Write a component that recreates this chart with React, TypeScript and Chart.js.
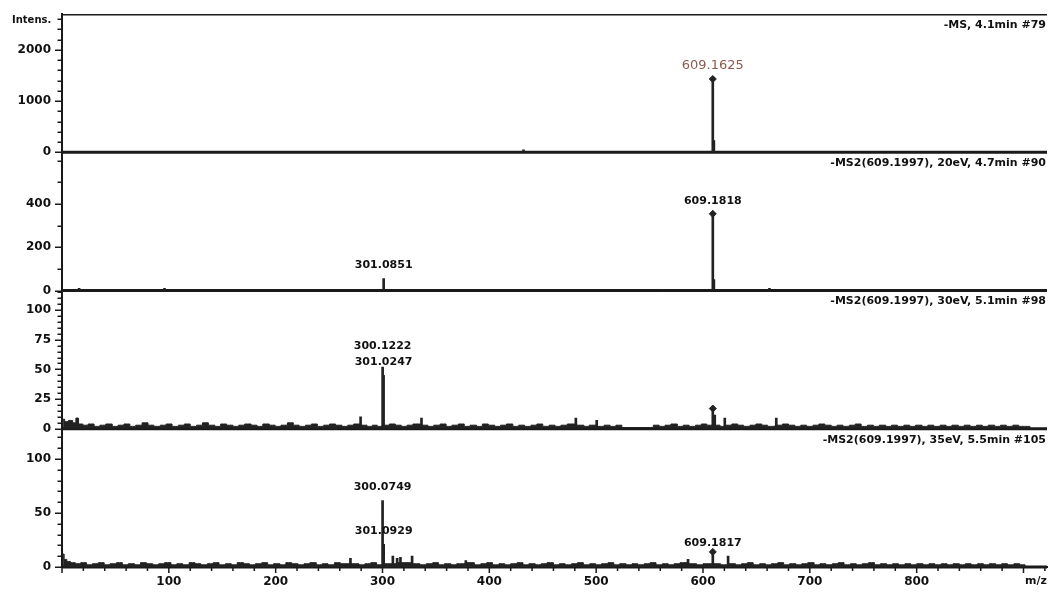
import React, { useEffect, useRef } from 'react';
import { Chart, registerables } from 'chart.js';

Chart.register(...registerables);

// ---------- data ----------
const panelTitles = [
  '-MS, 4.1min #79',
  '-MS2(609.1997), 20eV, 4.7min #90',
  '-MS2(609.1997), 30eV, 5.1min #98',
  '-MS2(609.1997), 35eV, 5.5min #105',
];

const xTickLabels = [100, 200, 300, 400, 500, 600, 700, 800];
const p1TickLabels = [0, 1000, 2000];
const p2TickLabels = [0, 200, 400];
const p3TickLabels = [0, 25, 50, 75, 100];
const p4TickLabels = [0, 50, 100];

// peaks (m/z, intensity)
const p1Mz = [432.0, 609.1625, 610.17];
const p1Int = [45, 1430, 230];

const p2Mz = [16.0, 96.0, 301.0851, 561.0, 609.1818, 610.18, 662.2];
const p2Int = [10, 10, 55, 4, 355, 50, 10];

const p3Mz = [279.5, 300.1222, 301.0247, 336.5, 481.0, 500.5, 609.18, 611.0, 620.4, 668.6];
const p3Int = [10, 52, 45, 9, 9, 7, 17, 11.5, 9, 9];

const p4Mz = [270.0, 300.0749, 301.0929, 309.7, 313.7, 316.8, 327.7, 378.0, 586.0, 609.1817, 623.5];
const p4Int = [8, 61.5, 21, 10, 8, 9, 10, 6, 7, 14, 10];

// precursor markers
const markerMz = [609.1625, 609.1818, 609.18, 609.1817];
const markerInt = [1430, 355, 17, 14];

// peak annotations
const p1LabelMz = [609.1625];
const p1LabelInt = [1430];
const p1LabelText = ['609.1625'];
const p2LabelMz = [301.0851, 609.1818];
const p2LabelInt = [55, 355];
const p2LabelText = ['301.0851', '609.1818'];
const p3LabelMz = [301.0247, 300.1222];
const p3LabelInt = [45, 52];
const p3LabelText = ['301.0247', '300.1222'];
const p4LabelMz = [301.0929, 300.0749, 609.1817];
const p4LabelInt = [21, 61.5, 10];
const p4LabelText = ['301.0929', '300.0749', '609.1817'];

// baseline noise (m/z, intensity)
const p3Noise: [number, number][] = [
  [1,8],[4,6],[8,7],[12,5],[14,9],[17,4],[22,3],[27,4],[33,2],[38,3],[44,4],[50,2],[55,3],[61,4],[66,2],[72,3],
  [78,5],[83,3],[89,2],[95,3],[100,4],[106,2],[112,3],[117,4],[123,2],[129,3],[134,5],[140,3],[146,2],[151,4],
  [157,3],[163,2],[168,3],[174,4],[180,3],[185,2],[191,4],[197,3],[202,2],[208,3],[214,5],[219,3],[225,2],[231,3],
  [236,4],[242,2],[248,3],[253,4],[259,3],[265,2],[270,3],[276,4],[283,3],[288,2],[293,3],[297,2],[304,3],[309,4],
  [315,3],[320,2],[326,3],[331,4],[340,3],[345,2],[351,3],[357,4],[362,2],[368,3],[374,4],[379,2],[385,3],[391,2],
  [396,4],[402,3],[408,2],[413,3],[419,4],[425,2],[430,3],[436,2],[442,3],[447,4],[453,2],[459,3],[464,2],[470,3],
  [476,4],[486,3],[491,2],[496,3],[505,2],[510,3],[516,2],[521,3],[527,1],[533,1],[539,1],[545,1],[551,1],[556,3],
  [562,2],[567,3],[573,4],[579,2],[584,3],[590,2],[596,3],[601,4],[606,3],[614,3],[618,2],[624,3],[630,4],[635,3],
  [641,2],[647,3],[652,4],[658,3],[663,2],[672,3],[677,4],[683,3],[689,2],[694,3],[700,2],[706,3],[711,4],[717,3],
  [723,2],[728,3],[734,2],[740,3],[745,4],[751,2],[757,3],[762,2],[768,3],[774,2],[779,3],[785,2],[791,3],[796,2],
  [802,3],[808,2],[813,3],[819,2],[825,3],[830,2],[836,3],[842,2],[847,3],[853,2],[859,3],[864,2],[870,3],[876,2],
  [881,3],[887,2],[893,3],[898,2],[904,2],[908,0],
];

const p4Noise: [number, number][] = [
  [1,12],[3,7],[6,5],[10,4],[15,3],[20,4],[26,2],[31,3],[37,4],[42,2],[48,3],[54,4],[59,2],[65,3],[71,2],[76,4],
  [82,3],[88,2],[93,3],[99,4],[105,2],[110,3],[116,2],[122,4],[127,3],[133,2],[139,3],[144,4],[150,2],[156,3],
  [161,2],[167,4],[173,3],[178,2],[184,3],[190,4],[195,2],[201,3],[207,2],[212,4],[218,3],[224,2],[229,3],[235,4],
  [241,2],[246,3],[252,2],[258,4],[263,3],[275,3],[281,2],[286,3],[292,4],[297,2],[305,3],[321,4],[332,3],[338,2],
  [344,3],[350,4],[355,2],[361,3],[367,2],[372,3],[383,4],[389,2],[395,3],[400,4],[406,2],[412,3],[417,2],[423,3],
  [429,4],[434,2],[440,3],[446,2],[451,3],[457,4],[463,2],[468,3],[474,2],[480,3],[485,4],[491,2],[497,3],[502,2],
  [508,3],[514,4],[519,2],[525,3],[531,2],[536,3],[542,2],[548,3],[553,4],[559,2],[565,3],[570,2],[576,3],[581,4],
  [591,3],[597,2],[603,3],[614,3],[619,2],[628,3],[633,2],[639,3],[644,4],[650,2],[656,3],[661,2],[667,3],[673,4],
  [678,2],[684,3],[690,2],[695,3],[701,4],[707,2],[712,3],[718,2],[724,3],[729,4],[735,2],[741,3],[746,2],[752,3],
  [758,4],[763,2],[769,3],[775,2],[780,3],[786,2],[792,3],[797,2],[803,3],[809,2],[814,3],[820,2],[826,3],[831,2],
  [837,3],[843,2],[848,3],[854,2],[860,3],[865,2],[871,3],[877,2],[882,3],[888,2],[894,3],[899,2],[904,0],
];

// ---------- chart ----------
const FONT = '"DejaVu Sans", "Liberation Sans", Arial, sans-serif';
const INK = '#1a1a1a';

const panelIds = ['y1', 'y2', 'y3', 'y4'];
const panelTickLabels = [p1TickLabels, p2TickLabels, p3TickLabels, p4TickLabels];
const panelLabels = [
  { mz: p1LabelMz, int: p1LabelInt, text: p1LabelText },
  { mz: p2LabelMz, int: p2LabelInt, text: p2LabelText },
  { mz: p3LabelMz, int: p3LabelInt, text: p3LabelText },
  { mz: p4LabelMz, int: p4LabelInt, text: p4LabelText },
];

const pts = (mz: number[], it: number[]) => mz.map((m, i) => ({ x: m, y: it[i] }));

function barSet(mz: number[], it: number[], yAxisID: string) {
  return {
    type: 'bar' as const,
    data: pts(mz, it),
    yAxisID,
    xAxisID: 'x',
    backgroundColor: '#222',
    borderWidth: 0,
    barThickness: 2,
    grouped: false,
  };
}

function noiseSet(noise: [number, number][], yAxisID: string) {
  return {
    type: 'line' as const,
    data: noise.map(([x, y]) => ({ x, y })),
    yAxisID,
    xAxisID: 'x',
    stepped: 'middle' as const,
    fill: 'origin',
    borderColor: '#222',
    backgroundColor: '#222',
    borderWidth: 1,
    pointRadius: 0,
  };
}

function yScale(id: number, max: number, step: number, labels: number[]) {
  return {
    type: 'linear' as const,
    position: 'left' as const,
    stack: 'ms',
    stackWeight: 1,
    weight: 5 - id,
    min: 0,
    max,
    offset: false,
    grid: { display: false, drawTicks: false },
    border: { display: true, color: INK, width: 2 },
    ticks: {
      stepSize: step,
      autoSkip: false,
      includeBounds: false,
      padding: 11,
      color: '#111',
      font: { family: FONT, weight: 'bold' as const, size: 12 },
      callback: (v: any) => (labels.some((l) => Math.abs(l - Number(v)) < 1e-6) ? String(v) : ''),
    },
    afterFit: (s: any) => {
      s.width = 62;
      s.paddingTop = 0;
      s.paddingBottom = 0;
    },
  };
}

const overlay = {
  id: 'overlay',
  beforeDatasetsDraw(chart: any) {
    const { ctx, chartArea } = chart;
    ctx.save();
    ctx.strokeStyle = INK;
    ctx.lineWidth = 1.5;
    ctx.beginPath();
    ctx.moveTo(chartArea.left, chartArea.top + 0.75);
    ctx.lineTo(chartArea.right, chartArea.top + 0.75);
    ctx.stroke();
    ctx.lineWidth = 3;
    for (const id of panelIds) {
      const y = chart.scales[id].getPixelForValue(0);
      ctx.beginPath();
      ctx.moveTo(chartArea.left, y);
      ctx.lineTo(chartArea.right, y);
      ctx.stroke();
    }
    ctx.restore();
  },
  afterDraw(chart: any) {
    const { ctx, chartArea } = chart;
    ctx.save();
    ctx.strokeStyle = INK;
    ctx.lineWidth = 1.5;
    // y tick marks
    panelIds.forEach((id, k) => {
      const s = chart.scales[id];
      for (const t of s.ticks) {
        const y = Math.round(s.getPixelForValue(t.value)) + 0.25;
        const major = panelTickLabels[k].some((l) => Math.abs(l - t.value) < 1e-6);
        const len = major ? 7 : 4.5;
        ctx.beginPath();
        ctx.moveTo(chartArea.left - len, y);
        ctx.lineTo(chartArea.left, y);
        ctx.stroke();
      }
    });
    // x tick marks
    const xs = chart.scales.x;
    for (const t of xs.ticks) {
      const x = xs.getPixelForValue(t.value);
      const major = t.value % 100 === 0;
      const len = major ? 6 : 4;
      ctx.beginPath();
      ctx.moveTo(x, chartArea.bottom);
      ctx.lineTo(x, chartArea.bottom + len);
      ctx.stroke();
    }
    // titles
    ctx.fillStyle = '#111';
    ctx.font = `bold 11px ${FONT}`;
    ctx.textAlign = 'right';
    ctx.textBaseline = 'middle';
    panelIds.forEach((id, k) => {
      const s = chart.scales[id];
      ctx.fillText(panelTitles[k], chartArea.right - 1, s.top + 11);
    });
    // peak labels
    ctx.textAlign = 'center';
    panelIds.forEach((id, k) => {
      const s = chart.scales[id];
      const L = panelLabels[k];
      ctx.font = k === 0 ? `13px ${FONT}` : `bold 11px ${FONT}`;
      ctx.fillStyle = k === 0 ? '#8c5a4e' : '#111';
      const placed: { x: number; y: number; w: number }[] = [];
      L.mz.forEach((m, i) => {
        const x = xs.getPixelForValue(m);
        let y = s.getPixelForValue(L.int[i]) - 13;
        const w = ctx.measureText(L.text[i]).width;
        for (const p of placed) {
          if (Math.abs(p.x - x) < (p.w + w) / 2 && Math.abs(p.y - y) < 15) y = p.y - 16;
        }
        placed.push({ x, y, w });
        ctx.fillText(L.text[i], x, y);
      });
    });
    // axis captions
    ctx.fillStyle = '#111';
    ctx.font = `bold 10px ${FONT}`;
    ctx.textAlign = 'left';
    ctx.fillText('Intens.', 12, chartArea.top + 6);
    ctx.font = `bold 11px ${FONT}`;
    ctx.textAlign = 'center';
    ctx.fillText('m/z', 1036, chartArea.bottom + 14);
    ctx.restore();
  },
};

export default function App() {
  const ref = useRef<HTMLCanvasElement>(null);
  useEffect(() => {
    const chart = new Chart(ref.current as HTMLCanvasElement, {
      type: 'bar',
      data: {
        datasets: [
          noiseSet(p3Noise, 'y3'),
          noiseSet(p4Noise, 'y4'),
          barSet(p1Mz, p1Int, 'y1'),
          barSet(p2Mz, p2Int, 'y2'),
          barSet(p3Mz, p3Int, 'y3'),
          barSet(p4Mz, p4Int, 'y4'),
          ...markerMz.map((m, i) => ({
            type: 'line' as const,
            data: [{ x: m, y: markerInt[i] }],
            yAxisID: panelIds[i],
            xAxisID: 'x',
            showLine: false,
            pointStyle: 'rectRot' as const,
            pointRadius: 3.5,
            backgroundColor: '#222',
            borderColor: '#222',
            borderWidth: 1,
          })),
        ] as any,
      },
      options: {
        responsive: false,
        animation: false,
        events: [],
        layout: { padding: { top: 14, right: 3, left: 0, bottom: 0 } },
        plugins: { legend: { display: false }, tooltip: { enabled: false } },
        scales: {
          x: {
            type: 'linear',
            position: 'bottom',
            min: 0,
            max: 922,
            offset: false,
            grid: { display: false, drawTicks: false },
            border: { display: true, color: INK, width: 2 },
            ticks: {
              stepSize: 20,
              autoSkip: false,
              includeBounds: false,
              maxRotation: 0,
              padding: 8,
              color: '#111',
              font: { family: FONT, weight: 'bold', size: 12 },
              callback: (v: any) => (xTickLabels.includes(Number(v)) ? String(v) : ''),
            },
            afterFit: (s: any) => {
              s.height = 27;
              s.paddingLeft = 0;
              s.paddingRight = 0;
            },
          },
          y1: yScale(1, 2700, 200, p1TickLabels),
          y2: yScale(2, 640, 100, p2TickLabels),
          y3: yScale(3, 116.5, 5, p3TickLabels),
          y4: yScale(4, 128, 10, p4TickLabels),
        } as any,
      },
      plugins: [overlay],
    });
    return () => chart.destroy();
  }, []);
  return (
    <div style={{ position: 'absolute', left: 0, top: 0, width: 1052, height: 594, background: '#fff' }}>
      <canvas ref={ref} width={1052} height={594} style={{ display: 'block' }} />
    </div>
  );
}
